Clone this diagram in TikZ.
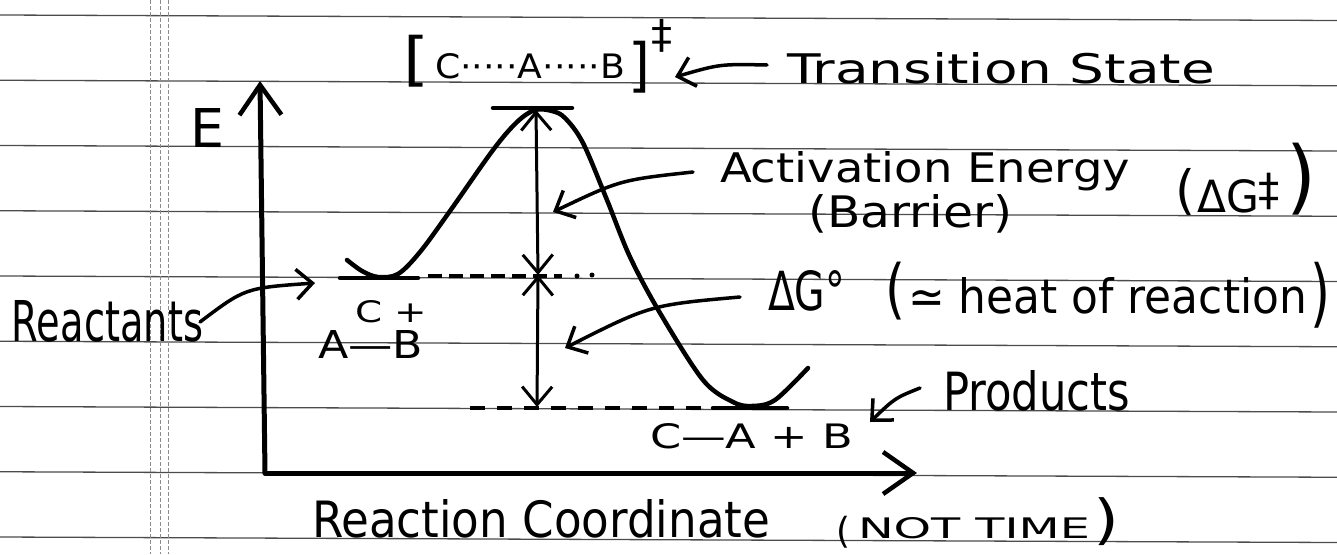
\documentclass[tikz,border=0pt]{standalone}
\usepackage{fontspec}
\setmainfont{DejaVu Sans}
\usepackage{graphicx}
\usetikzlibrary{arrows.meta}
\newcommand\fitb[3]{\resizebox{#1pt}{#2pt}{#3}}
\newcommand\fitt[3]{\resizebox*{#1pt}{#2pt}{#3}}
\tikzset{
  rule/.style={black!70, line width=1.3pt},
  margin/.style={black!45, line width=0.9pt, dash pattern=on 4pt off 2pt},
  txt/.style={inner sep=0pt, outer sep=0pt},
  axis/.style={line width=5pt, line cap=round, -{Straight Barb[length=30pt,width=42pt,line width=4.5pt]}},
  curve/.style={line width=4.5pt, line cap=round},
  levelbar/.style={line width=4.5pt, line cap=round},
  dashline/.style={line width=4pt},
  dbl/.style={line width=3pt, {Straight Barb[length=18pt,width=30pt,line width=3pt]}-{Straight Barb[length=18pt,width=30pt,line width=3pt]}},
  note/.style={line width=3.5pt, line cap=round, -{Straight Barb[length=16pt,width=30pt,line width=3.5pt]}}
}
\begin{document}
\begin{tikzpicture}[x=1pt,y=-1pt]
\useasboundingbox (0,0) rectangle (1337,554);
% ruled paper
\foreach \k in {0,...,8}{
  \draw[rule] (0,{15+65.25*\k}) -- (1337,{20.5+65.25*\k});
}
\foreach \mx in {150,160,168}{
  \draw[margin] (\mx,0) -- (\mx,554);
}
% axes
\coordinate (origin) at (265,473);
\coordinate (ytip) at (260,81);
\coordinate (xtip) at (917,473);
\draw[axis] (origin) -- (ytip);
\draw[axis] (origin) -- (xtip);
% energy curve
\draw[curve] plot[smooth, tension=0.55] coordinates {(347,260) (362,271) (378,277) (398,274) (420,252) (450,211) (493,150) (517,122) (535,110) (552,111) (565,118) (583,143) (607,200) (630,257) (660,313) (703,380) (733,402) (752,406) (775,400) (808,368)};
% level bars
\draw[levelbar] (340,278) -- (418,278);
\draw[levelbar] (713,408) -- (787,408);
\draw[levelbar] (493,108) -- (572,108);
% dashed levels
\draw[dashline, dash pattern=on 14pt off 7pt] (428,276) -- (562,276);
\fill (577,276) circle (2.5pt);
\fill (592,275) circle (2.5pt);
\draw[dashline, dash pattern=on 15pt off 12pt] (470,408) -- (712,408);
% double arrows
\coordinate (ptop) at (536,110);
\coordinate (pmid) at (538,275);
\coordinate (pbot) at (537,407);
\draw[dbl] (ptop) -- (pmid);
\draw[dbl] (pmid) -- (pbot);
% labels
\node[txt,anchor=center] (lbr) at (416,61) {\fitt{26}{52}{[}};
\node[txt,anchor=center] (rbr) at (639,67) {\fitt{22}{52}{]}};
\node[txt,anchor=base west] (tsm) at (435,78) {\fitb{190}{25}{C·····A·····B}};
\node[txt,anchor=center] (tsd) at (662,36) {\fitt{21}{33}{‡}};
\node[txt,anchor=base west] (tsl) at (787,83) {\fitb{428}{31}{Transition State}};
\node[txt,anchor=base west] (E) at (190,147) {\fitb{34}{39}{E}};
\node[txt,anchor=base west] (act) at (720,182) {\fitb{410}{31}{Activation Energy}};
\node[txt,anchor=center] (actlp) at (1185,191.5) {\fitt{20}{47}{(}};
\node[txt,anchor=base west] (actdg) at (1197,212) {\fitb{83}{39}{ΔG\raisebox{0.15em}{‡}}};
\node[txt,anchor=center] (actrp) at (1301,179.5) {\fitt{30}{72}{)}};
\node[txt,anchor=base west] (bar) at (808,227) {\fitb{204}{33}{(Barrier)}};
\node[txt,anchor=base west] (dg) at (768,310) {\fitb{77}{40}{ΔG°}};
\node[txt,anchor=center] (hlp) at (895,291) {\fitt{20}{58}{(}};
\node[txt,anchor=base west] (heat) at (908,313) {\fitb{399}{36}{≃ heat of reaction}};
\node[txt,anchor=center] (hrp) at (1320,295) {\fitt{20}{66}{)}};
\node[txt,anchor=base west] (reac) at (12,341) {\fitb{191}{41}{Reactants}};
\node[txt,anchor=base west] (cplus) at (355,322) {\fitb{72}{22}{C +}};
\node[txt,anchor=base west] (ab) at (318,358) {\fitb{105}{28}{A—B}};
\node[txt,anchor=base west] (prodf) at (650,448) {\fitb{203}{25}{C—A + B}};
\node[txt,anchor=base west] (prod) at (943,410) {\fitb{187}{40}{Products}};
\node[txt,anchor=base west] (rc) at (312,537) {\fitb{458}{38}{Reaction Coordinate}};
\node[txt,anchor=center] (nlp) at (843,532) {\fitt{14}{32}{(}};
\node[txt,anchor=base west] (nt) at (858,538) {\fitb{232}{21}{NOT TIME}};
\node[txt,anchor=center] (nrp) at (1106,522) {\fitt{26}{48}{)}};
% annotation arrows
\coordinate (tsS) at (767,65);   \coordinate (tsE) at (675,77);
\coordinate (actS) at (693,172); \coordinate (actE) at (553,212);
\coordinate (dgS) at (740,297);  \coordinate (dgE) at (565,348);
\coordinate (reS) at (200,322);  \coordinate (reE) at (315,283);
\coordinate (prS) at (920,388);  \coordinate (prE) at (870,422);
\draw[note] (tsS) .. controls (720,64) .. (tsE);
\draw[note] (actS) .. controls (620,180) .. (actE);
\draw[note] (dgS) .. controls (650,305) .. (dgE);
\draw[note] (reS) .. controls (245,288) .. (reE);
\draw[note] (prS) .. controls (895,398) .. (prE);
\end{tikzpicture}
\end{document}
